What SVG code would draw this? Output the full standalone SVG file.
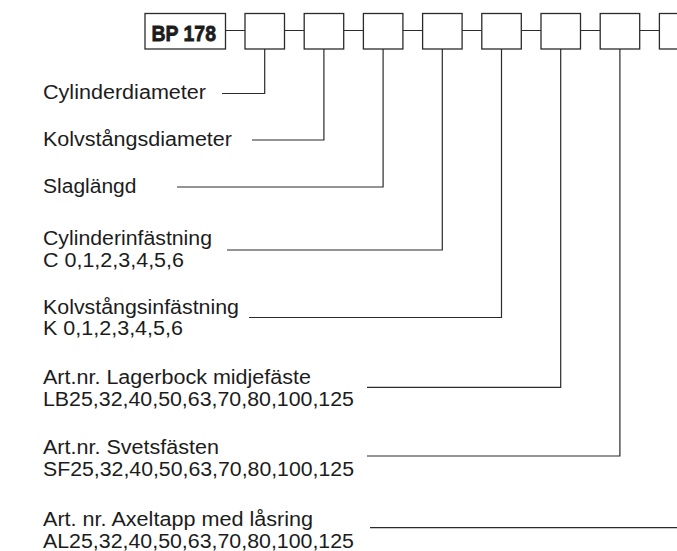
<svg xmlns="http://www.w3.org/2000/svg" width="677" height="551" viewBox="0 0 677 551">
<style>
.bg{fill:#ffffff}
.box{fill:#ffffff;stroke:#2b2b2b;stroke-width:1.3}
.ln{fill:none;stroke:#2b2b2b;stroke-width:1.2}
.lbl{font-family:"Liberation Sans",Arial,sans-serif;font-size:20px;fill:#1c1c1c}
.code{font-family:"Liberation Sans",Arial,sans-serif;font-size:22px;font-weight:bold;fill:#1c1c1c;stroke:#1c1c1c;stroke-width:0.8}
</style>
<rect class="bg" x="0" y="0" width="677" height="551"/>
<g id="connectors">
<path class="ln" d="M225.5 30.5H245M284.5 30.5H304.2M343.7 30.5H363.4M402.9 30.5H422.6M462.1 30.5H481.8M521.3 30.5H541M580.5 30.5H600.2M639.7 30.5H659.4"/>
<path class="ln" d="M222 93.5H264.7V49"/>
<path class="ln" d="M252 140H323.9V49"/>
<path class="ln" d="M177 187H383.1V49"/>
<path class="ln" d="M227 250H442.3V49"/>
<path class="ln" d="M249 317.5H501.5V49"/>
<path class="ln" d="M367 387.3H560.7V49"/>
<path class="ln" d="M367 456H619.9V49"/>
<path class="ln" d="M370 527.7H680"/>
</g>
<g id="bp178"><rect class="box" x="145" y="13.5" width="80.5" height="35.5"/><text class="code" x="151.5" y="40.5" textLength="64.5" lengthAdjust="spacingAndGlyphs">BP 178</text></g>
<g id="box1"><rect class="box" x="245" y="13.5" width="39.5" height="35.5"/></g>
<g id="box2"><rect class="box" x="304.2" y="13.5" width="39.5" height="35.5"/></g>
<g id="box3"><rect class="box" x="363.4" y="13.5" width="39.5" height="35.5"/></g>
<g id="box4"><rect class="box" x="422.6" y="13.5" width="39.5" height="35.5"/></g>
<g id="box5"><rect class="box" x="481.8" y="13.5" width="39.5" height="35.5"/></g>
<g id="box6"><rect class="box" x="541" y="13.5" width="39.5" height="35.5"/></g>
<g id="box7"><rect class="box" x="600.2" y="13.5" width="39.5" height="35.5"/></g>
<g id="box8"><rect class="box" x="659.4" y="13.5" width="39.5" height="35.5"/></g>
<g id="lbl-cyldiam"><text class="lbl" x="43" y="99" textLength="163" lengthAdjust="spacingAndGlyphs">Cylinderdiameter</text></g>
<g id="lbl-kolvdiam"><text class="lbl" x="43" y="146" textLength="189" lengthAdjust="spacingAndGlyphs">Kolvstångsdiameter</text></g>
<g id="lbl-slag"><text class="lbl" x="43" y="193" textLength="93.5" lengthAdjust="spacingAndGlyphs">Slaglängd</text></g>
<g id="lbl-cylinf"><text class="lbl" x="43" y="245" textLength="169" lengthAdjust="spacingAndGlyphs">Cylinderinfästning</text><text class="lbl" x="43" y="266.5" textLength="141" lengthAdjust="spacingAndGlyphs">C 0,1,2,3,4,5,6</text></g>
<g id="lbl-kolvinf"><text class="lbl" x="43" y="313.5" textLength="196" lengthAdjust="spacingAndGlyphs">Kolvstångsinfästning</text><text class="lbl" x="43" y="335" textLength="140" lengthAdjust="spacingAndGlyphs">K 0,1,2,3,4,5,6</text></g>
<g id="lbl-lager"><text class="lbl" x="43" y="383.5" textLength="268" lengthAdjust="spacingAndGlyphs">Art.nr. Lagerbock midjefäste</text><text class="lbl" x="43" y="405.5" textLength="311" lengthAdjust="spacingAndGlyphs">LB25,32,40,50,63,70,80,100,125</text></g>
<g id="lbl-svets"><text class="lbl" x="43" y="453.5" textLength="176" lengthAdjust="spacingAndGlyphs">Art.nr. Svetsfästen</text><text class="lbl" x="43" y="476" textLength="311" lengthAdjust="spacingAndGlyphs">SF25,32,40,50,63,70,80,100,125</text></g>
<g id="lbl-axel"><text class="lbl" x="43" y="525.5" textLength="270" lengthAdjust="spacingAndGlyphs">Art. nr. Axeltapp med låsring</text><text class="lbl" x="43" y="547.5" textLength="311" lengthAdjust="spacingAndGlyphs">AL25,32,40,50,63,70,80,100,125</text></g>
</svg>
